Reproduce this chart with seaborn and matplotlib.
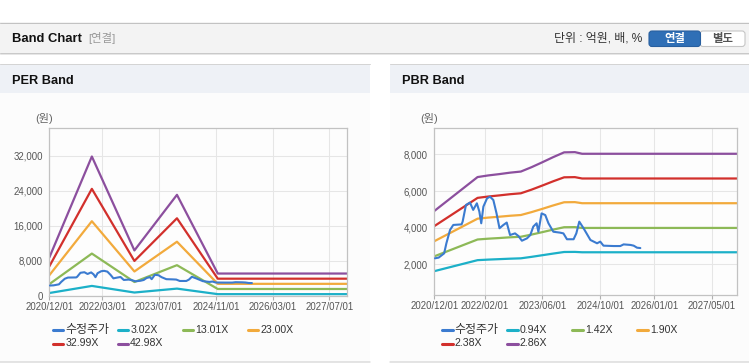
import numpy as np
import pandas as pd
import seaborn as sns
import matplotlib.pyplot as plt
from matplotlib.patches import Rectangle, FancyBboxPatch
from matplotlib.lines import Line2D

W, H = 749, 364

# adjusted price (수정주가), same series on both charts
price_dates = ['2020-12-07', '2021-01-07', '2021-02-22', '2021-03-13', '2021-04-13', '2021-05-10',
               '2021-07-19', '2021-07-28', '2021-08-25', '2021-09-28', '2021-10-25', '2021-11-25',
               '2021-12-16', '2022-01-01', '2022-01-19', '2022-02-19', '2022-03-16', '2022-04-13',
               '2022-05-10', '2022-06-04', '2022-07-07', '2022-08-04', '2022-09-01', '2022-10-13',
               '2022-11-10', '2022-12-10', '2023-01-22', '2023-02-19', '2023-03-16', '2023-04-13',
               '2023-04-28', '2023-05-25', '2023-06-25', '2023-07-22', '2023-09-01', '2023-10-28',
               '2023-11-25', '2023-12-25', '2024-02-19', '2024-03-13', '2024-04-07', '2024-05-13',
               '2024-07-10', '2024-09-04', '2024-10-01', '2024-10-28', '2025-01-22', '2025-03-19',
               '2025-04-16', '2025-06-13', '2025-07-10', '2025-08-07', '2025-09-04']
price_values = [2330, 2370, 2600, 3150, 3880, 4150, 4180, 4330, 5240, 5370, 4970, 5330,
                4880, 4240, 5150, 5600, 5690, 5510, 4780, 3970, 4150, 4280, 3600, 3690,
                3550, 3290, 3420, 3600, 4060, 4240, 3780, 4780, 4690, 4240, 3780, 3730,
                3690, 3370, 3370, 3690, 4330, 3970, 3330, 3150, 3240, 3020, 3000, 3000,
                3090, 3060, 3020, 2910, 2890]

# PER band
per_dates = ['2020-12-01', '2021-12-01', '2022-12-01', '2023-12-01', '2024-11-15', '2027-12-01']
per_labels = ['3.02X', '13.01X', '23.00X', '32.99X', '42.98X']
per_bands = [
    [613, 2238, 728, 1622, 356, 356],
    [2641, 9640, 3135, 6986, 1535, 1535],
    [4669, 17043, 5543, 12351, 2714, 2714],
    [6697, 24446, 7951, 17716, 3893, 3893],
    [8725, 31848, 10358, 23080, 5072, 5072],
]
per_ticks = ['2020/12/01', '2022/03/01', '2023/07/01', '2024/11/01', '2026/03/01', '2027/07/01']
per_yticks = [0, 8000, 16000, 24000, 32000]

# PBR band
pbr_dates = ['2020-12-01', '2021-12-01', '2022-03-01', '2022-06-01', '2022-09-01', '2022-12-01',
             '2023-03-01', '2023-06-01', '2023-09-01', '2023-12-01', '2024-03-01', '2024-05-01',
             '2027-12-01']
pbr_labels = ['0.94X', '1.42X', '1.90X', '2.38X', '2.86X']
pbr_bands = [
    [1630, 2230, 2260, 2285, 2310, 2330, 2410, 2500, 2590, 2675, 2680, 2660, 2660],
    [2438, 3357, 3401, 3436, 3476, 3506, 3624, 3759, 3898, 4026, 4031, 3987, 3987],
    [3262, 4492, 4551, 4598, 4651, 4691, 4849, 5029, 5216, 5387, 5394, 5335, 5335],
    [4086, 5626, 5700, 5760, 5826, 5876, 6074, 6300, 6533, 6747, 6757, 6683, 6683],
    [4911, 6761, 6850, 6921, 7001, 7061, 7299, 7570, 7851, 8108, 8120, 8031, 8031],
]
pbr_ticks = ['2020/12/01', '2022/02/01', '2023/06/01', '2024/10/01', '2026/01/01', '2027/05/01']
pbr_yticks = [2000, 4000, 6000, 8000]

colors = ['#3b7bd0', '#1cb0c8', '#8db957', '#f2aa3c', '#d2302c', '#8c4f9e']

sns.set_style('white')
plt.rcParams['font.family'] = ['Liberation Sans', 'Noto Sans CJK KR']

fig = plt.figure(figsize=(W / 100, H / 100), dpi=100)
fig.patch.set_facecolor('white')
T = fig.dpi_scale_trans


def px(x, y):
    return x / 100, (H - y) / 100


def box(x0, y0, x1, y1, color, z=-5):
    fig.add_artist(Rectangle(px(x0, y1), (x1 - x0) / 100, (y1 - y0) / 100,
                             transform=T, facecolor=color, edgecolor='none', zorder=z))


def hline(x0, x1, y, color, lw=1.0):
    fig.add_artist(Line2D([x0 / 100, x1 / 100], [(H - y) / 100] * 2, transform=T,
                          color=color, lw=lw * 0.72, zorder=-4))


def text(x, y, s, **kw):
    fig.text(*px(x, y), s, transform=T, va='center', **kw)


# page header
box(0, 22.5, W, 53, '#f3f3f3')
hline(0, W, 22.5, '#c2c2c2')
hline(0, W, 53, '#c9c9c9')
hline(0, W, 54.2, '#e6e6e6')
text(12, 38.5, 'Band Chart', fontsize=9.4, fontweight='bold', color='#111111')
text(88, 38.5, '[연결]', fontsize=8.2, color='#999999')
text(642, 38.7, '단위 : 억원, 배, %', fontsize=8.6, color='#333333', ha='right')
fig.add_artist(FancyBboxPatch(px(700, 46.5), 0.45, 0.155, boxstyle='round,pad=0,rounding_size=0.03',
                              transform=T, facecolor='white', edgecolor='#c6c6c6', lw=0.8))
fig.add_artist(FancyBboxPatch(px(649, 46.5), 0.515, 0.155, boxstyle='round,pad=0,rounding_size=0.03',
                              transform=T, facecolor='#2f6fb6', edgecolor='#285f9f', lw=0.8))
text(674.5, 38.7, '연결', fontsize=8.2, fontweight='bold', color='white', ha='center')
text(722.5, 38.7, '별도', fontsize=8.2, fontweight='bold', color='#555555', ha='center')

# panels
for x0, x1, title in [(0, 370, 'PER Band'), (390, W, 'PBR Band')]:
    box(x0, 64, x1, 362, '#fcfcfc')
    box(x0, 64, x1, 92.5, '#eef1f6')
    hline(x0, x1, 64, '#d4d4d4')
    hline(x0, x1, 362, '#dcdcdc', lw=1.5)
    text(x0 + 12, 80.5, title, fontsize=9.2, fontweight='bold', color='#111111')


def band_chart(rect, dates, bands, labels, ticks, yticks, ylim, unit_x, legend_x):
    ax = fig.add_axes([rect[0] / W, 1 - rect[3] / H, (rect[2] - rect[0]) / W, (rect[3] - rect[1]) / H])
    ax.set_facecolor('#fdfdfd')
    long = pd.DataFrame({
        'date': np.tile(pd.to_datetime(dates), len(labels)),
        'value': np.concatenate(bands),
        'series': np.repeat(labels, len(dates)),
    })
    sns.lineplot(data=long, x='date', y='value', hue='series', hue_order=labels,
                 palette=colors[1:], lw=1.6, legend=False, ax=ax)
    prices = pd.DataFrame({'date': pd.to_datetime(price_dates), 'value': price_values})
    sns.lineplot(data=prices, x='date', y='value', color=colors[0], lw=1.5, ax=ax, zorder=5)

    ax.set_xlim(pd.Timestamp('2020-12-01'), pd.Timestamp('2027-12-01'))
    ax.set_ylim(*ylim)
    ax.set_xticks(pd.to_datetime(ticks, format='%Y/%m/%d'))
    ax.set_xticklabels(ticks)
    ax.set_yticks(yticks)
    ax.set_yticklabels([f'{v:,}' for v in yticks])
    ax.set_xlabel('')
    ax.set_ylabel('')
    ax.grid(True, color='#e6e6e6', lw=0.75)
    ax.set_axisbelow(True)
    for s in ax.spines.values():
        s.set_color('#c2c2c2')
        s.set_linewidth(0.9)
    ax.tick_params(axis='x', length=3, width=0.8, color='#b0b0b0', pad=1.5,
                   labelsize=6.9, labelcolor='#555555', bottom=True)
    ax.tick_params(axis='y', length=0, pad=4.5, labelsize=6.9, labelcolor='#555555')

    text(unit_x, 118, '(원)', fontsize=8, color='#666666', ha='center')

    names = ['수정주가'] + labels
    for i, name in enumerate(names):
        lx = legend_x + (i % 4) * 65
        ly = 330 + (i // 4) * 13.5
        fig.add_artist(Line2D([lx / 100, (lx + 10.5) / 100], [(H - ly) / 100] * 2,
                              transform=T, color=colors[i], lw=2.2))
        text(lx + 12.5, ly, name, fontsize=8.6 if i == 0 else 7.6, color='#333333')
    return ax


band_chart((49.3, 128.3, 347.3, 295.7), per_dates, per_bands, per_labels, per_ticks,
           per_yticks, (0, 38300), 44, 52.7)
band_chart((434.3, 128.3, 737.3, 295.0), pbr_dates, pbr_bands, pbr_labels, pbr_ticks,
           pbr_yticks, (330, 9420), 429, 442.3)

fig.savefig('out.png', dpi=100)
